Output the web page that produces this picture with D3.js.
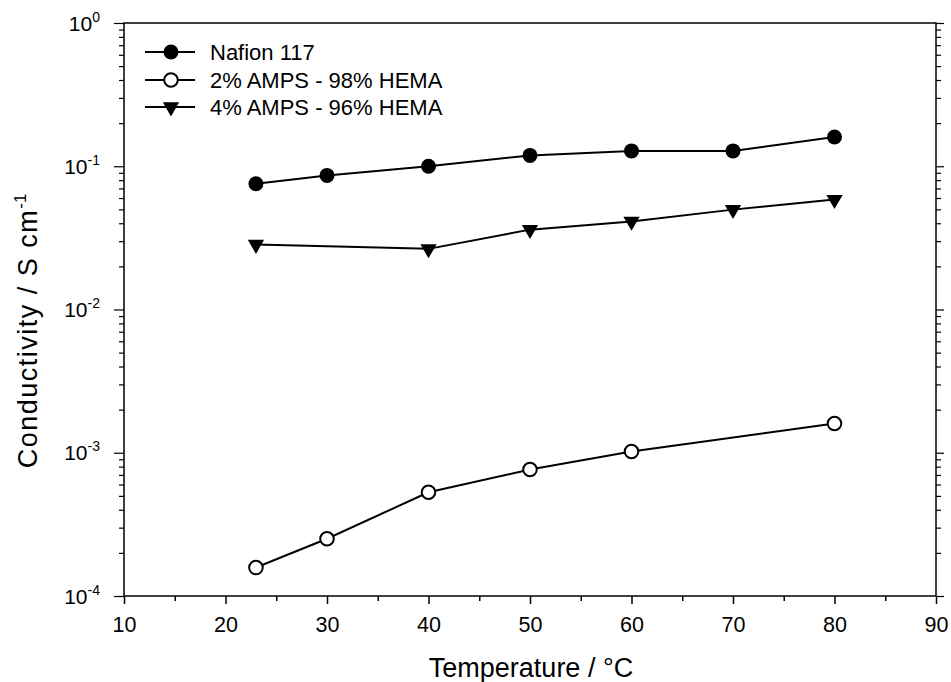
<!DOCTYPE html>
<html><head><meta charset="utf-8">
<script src="https://cdn.jsdelivr.net/npm/d3@7"></script>
<style>
body{margin:0;background:#fff;}
svg{display:block;font-family:"Liberation Sans",Arial,sans-serif;}
</style></head>
<body><svg id="c" width="951" height="682"></svg>
<script>
const xTicks = [10,20,30,40,50,60,70,80,90];
const xMinor = [15,25,35,45,55,65,75,85];
const yExps = [0,-1,-2,-3,-4];
const nafionT = [23,30,40,50,60,70,80];
const nafion = [0.0755,0.0863,0.100,0.119,0.128,0.128,0.160];
const amps2T = [23,30,40,50,60,80];
const amps2 = [1.58e-4,2.51e-4,5.3e-4,7.64e-4,1.02e-3,1.60e-3];
const amps4T = [23,40,50,60,70,80];
const amps4 = [0.0284,0.0265,0.0361,0.0412,0.0498,0.0585];
const legendLabels = ["Nafion 117","2% AMPS - 98% HEMA","4% AMPS - 96% HEMA"];

const L=124,R=936,T=23,B=596;
const svg=d3.select("#c");
const x=d3.scaleLinear().domain([10,90]).range([L,R]);
const y=d3.scaleLog().domain([1e-4,1]).range([B,T]);

const yMajor=yExps.map(e=>Math.pow(10,e));
const yMinor=[];
for(let e=-4;e<0;e++) for(let m=2;m<=9;m++) yMinor.push(m*Math.pow(10,e));

// frame
svg.append("rect").attr("x",L).attr("y",T).attr("width",R-L).attr("height",B-T)
  .attr("fill","none").attr("stroke","#000").attr("stroke-width",1.5);

// bottom axis
const gx=svg.append("g").attr("transform",`translate(0,${B})`);
gx.call(d3.axisBottom(x).tickValues(xTicks).tickSize(8).tickFormat(d3.format("d")));
gx.append("g").call(d3.axisBottom(x).tickValues(xMinor).tickSize(5).tickFormat(""));
gx.selectAll(".domain").remove();
gx.selectAll("line").attr("stroke","#000").attr("stroke-width",1.5);
gx.selectAll("text").attr("font-size",21.5).attr("fill","#000").attr("font-family","Liberation Sans, Arial, sans-serif").attr("y",null).attr("dy",null).attr("transform","translate(0,36)");

// left axis
const gy=svg.append("g").attr("transform",`translate(${L},0)`);
gy.call(d3.axisLeft(y).tickValues(yMajor).tickSize(10).tickFormat(""));
gy.append("g").call(d3.axisLeft(y).tickValues(yMinor).tickSize(5).tickFormat(""));
gy.selectAll(".domain").remove();
gy.selectAll("line").attr("stroke","#000").attr("stroke-width",1.2);
// labels
yExps.forEach(e=>{
  const t=svg.append("text").attr("x",L-24).attr("y",y(Math.pow(10,e))+7.5)
    .attr("text-anchor","end").attr("font-size",21).attr("fill","#000");
  t.append("tspan").text("10");
  t.append("tspan").attr("dy",-9).attr("font-size",14).text(String(e));
});

// right axis
const gr=svg.append("g").attr("transform",`translate(${R},0)`);
gr.call(d3.axisRight(y).tickValues(yMajor).tickSize(8).tickFormat(""));
gr.append("g").call(d3.axisRight(y).tickValues(yMinor).tickSize(5).tickFormat(""));
gr.selectAll(".domain").remove();
gr.selectAll("line").attr("stroke","#000").attr("stroke-width",1.2);

// titles
svg.append("text").attr("x",531).attr("y",677).attr("text-anchor","middle")
  .attr("font-size",27).attr("fill","#000").text("Temperature / °C");
const yt=svg.append("text").attr("transform","translate(37,331) rotate(-90)")
  .attr("text-anchor","middle").attr("font-size",27).attr("letter-spacing",1.5).attr("fill","#000");
yt.append("tspan").text("Conductivity / S cm");
yt.append("tspan").attr("dy",-11).attr("font-size",17).attr("letter-spacing",0).text("-1");

const line=d3.line();
const series=[
  {t:nafionT,v:nafion,type:"fill"},
  {t:amps2T,v:amps2,type:"open"},
  {t:amps4T,v:amps4,type:"tri"}
];
const tri=d3.symbol().type(d3.symbolTriangle).size(115)();
function marker(g,type,cx,cy){
  if(type==="fill") g.append("circle").attr("cx",cx).attr("cy",cy).attr("r",7.5).attr("fill","#000");
  else if(type==="open") g.append("circle").attr("cx",cx).attr("cy",cy).attr("r",6.8).attr("fill","#fff").attr("stroke","#000").attr("stroke-width",2);
  else g.append("path").attr("d",tri).attr("transform",`translate(${cx},${cy}) rotate(180)`).attr("fill","#000");
}
series.forEach(s=>{
  const pts=s.t.map((t,i)=>[x(t),y(s.v[i])]);
  svg.append("path").attr("d",line(pts)).attr("fill","none").attr("stroke","#000").attr("stroke-width",2);
  const g=svg.append("g");
  pts.forEach(p=>marker(g,s.type,p[0],p[1]));
});

// legend
const legY=[52,80,107];
legendLabels.forEach((lab,i)=>{
  const g=svg.append("g");
  g.append("line").attr("x1",145).attr("x2",195).attr("y1",legY[i]).attr("y2",legY[i]).attr("stroke","#000").attr("stroke-width",2);
  marker(g,series[i].type,171,legY[i]);
  g.append("text").attr("x",210).attr("y",legY[i]+7.5).attr("font-size",22).attr("fill","#000").text(lab);
});
</script></body></html>
